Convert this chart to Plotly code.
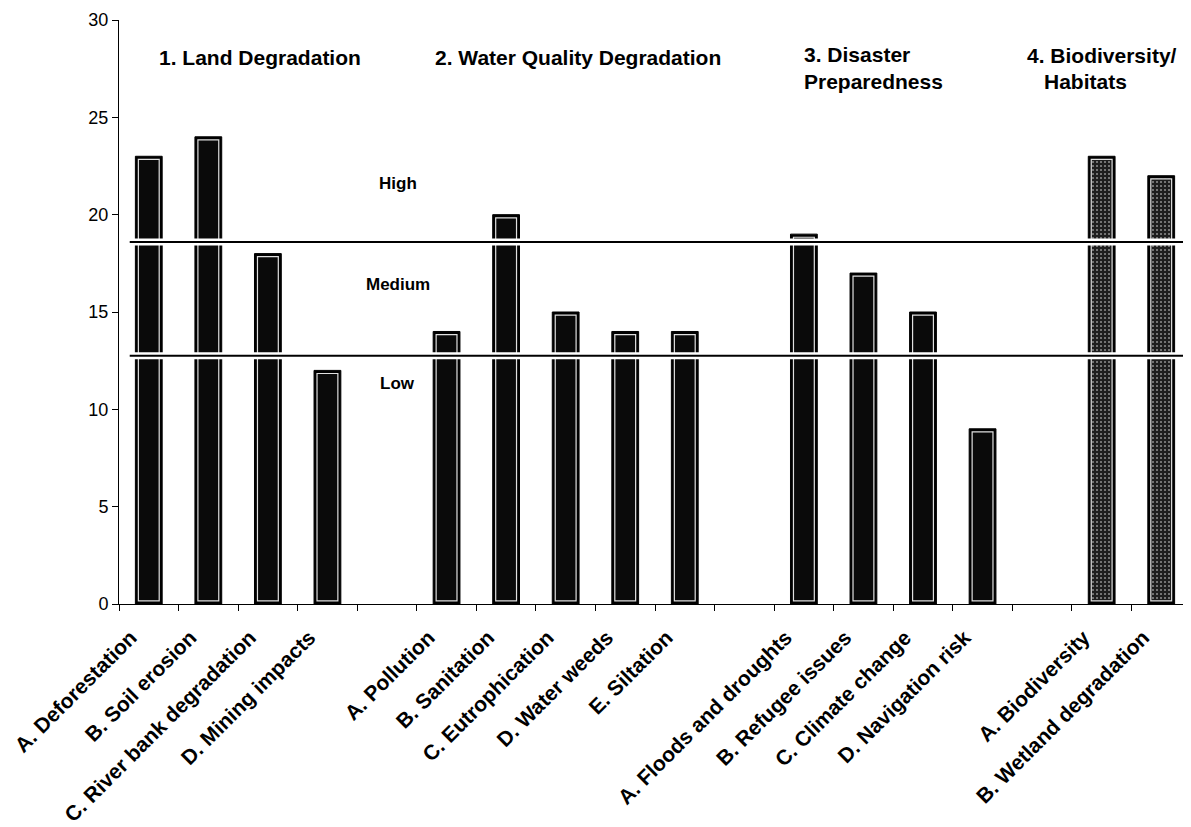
import plotly.graph_objects as go

categories = ["A. Deforestation", "B. Soil erosion", "C. River bank degradation", "D. Mining impacts", " ",
              "A. Pollution", "B. Sanitation", "C. Eutrophication", "D. Water weeds", "E. Siltation", "  ",
              "A. Floods and droughts", "B. Refugee issues", "C. Climate change", "D. Navigation risk", "   ",
              "A. Biodiversity", "B. Wetland degradation"]
values = [23, 24, 18, 12, None,
          14, 20, 15, 14, 14, None,
          19, 17, 15, 9, None,
          23, 22]
group = [1, 1, 1, 1, 0, 2, 2, 2, 2, 2, 0, 3, 3, 3, 3, 0, 4, 4]
high_threshold = 18.6
low_threshold = 12.75
level_labels = ["High", "Medium", "Low"]

fill = ["#1e1e1e" if g == 4 else "#0a0a0a" for g in group]

inset = 0.16
inner_y = [None if v is None else v - 2 * inset for v in values]

FONT = "Arial, Liberation Sans, sans-serif"

fig = go.Figure()
fig.add_trace(go.Bar(x=categories, y=values, width=0.45,
                     marker=dict(color="#000000", line=dict(color="#000000", width=1)),
                     showlegend=False, hoverinfo="skip"))
fig.add_trace(go.Bar(x=categories, y=inner_y, base=inset, width=0.35,
                     marker=dict(color=fill, line=dict(color="#e0e0e0", width=1.2),
                                 pattern=dict(shape=["." if g == 4 else "" for g in group],
                                              fgcolor="#808080", size=4, solidity=0.2)),
                     showlegend=False))

for yv in [high_threshold, low_threshold]:
    fig.add_shape(type="line", xref="paper", x0=0.01, x1=1, y0=yv, y1=yv,
                  line=dict(color="white", width=7), layer="above")
    fig.add_shape(type="line", xref="paper", x0=0.01, x1=1, y0=yv, y1=yv,
                  line=dict(color="black", width=2), layer="above")

bold = dict(family=FONT, size=21, color="black")
fig.add_annotation(x=1.87, y=28.05, text="<b>1. Land Degradation</b>", showarrow=False, font=bold)
fig.add_annotation(x=7.2, y=28.05, text="<b>2. Water Quality Degradation</b>", showarrow=False, font=bold)
fig.add_annotation(x=10.96, y=27.55, text="<b>3. Disaster<br>Preparedness</b>", showarrow=False,
                   font=bold, xanchor="left", align="left")
fig.add_annotation(x=14.72, y=28.2, text="<b>4. Biodiversity/</b>", showarrow=False,
                   font=bold, xanchor="left")
fig.add_annotation(x=15.0, y=26.85, text="<b>Habitats</b>", showarrow=False,
                   font=bold, xanchor="left")

small_bold = dict(family=FONT, size=17, color="black")
for lbl, yv in zip(level_labels, [21.6, 16.4, 11.35]):
    fig.add_annotation(x=4.18, y=yv, text="<b>" + lbl + "</b>", showarrow=False, font=small_bold)

fig.update_layout(
    width=1183, height=819,
    margin=dict(l=111, r=0, t=12, b=223, pad=0),
    plot_bgcolor="white", paper_bgcolor="white",
    barmode="overlay",
    font=dict(family=FONT, color="black"),
    xaxis=dict(type="category", categoryorder="array", categoryarray=categories,
               range=[-0.5, 17.5], tickangle=-45, tickson="boundaries",
               ticks="outside", ticklen=6, tickcolor="black",
               showline=True, linecolor="black", linewidth=1,
               tickfont=dict(size=21, family=FONT, weight="bold"),
               ticklabelshift=-18, ticklabelstandoff=12,
               showgrid=False, automargin=False),
    yaxis=dict(range=[0, 30], tickvals=[0, 5, 10, 15, 20, 25, 30],
               ticks="outside", ticklen=6, tickcolor="black",
               showline=True, linecolor="black", linewidth=1,
               tickfont=dict(size=18, family=FONT),
               showgrid=False, zeroline=False, automargin=False),
)

fig.write_html("out.html")
